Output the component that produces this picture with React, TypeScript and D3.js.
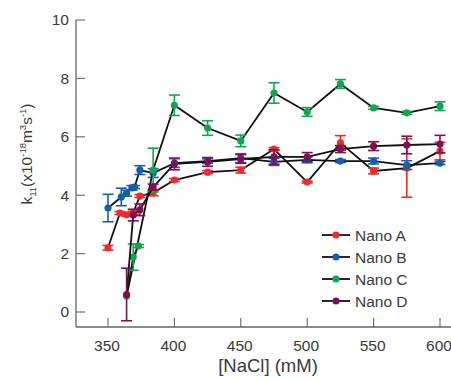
import React from "react";
import * as d3 from "d3";

const xTicks = [350, 400, 450, 500, 550, 600];
const yTicks = [0, 2, 4, 6, 8, 10];

const seriesNames = ["Nano A", "Nano B", "Nano C", "Nano D"];
const seriesColors = ["#ee2b2b", "#155fa9", "#12a551", "#7d1055"];

const nanoAX = [350, 359, 364, 369, 374, 384, 400, 425, 450, 475, 500, 525, 550, 575, 600];
const nanoAY = [2.2, 3.39, 3.33, 3.4, 3.97, 4.08, 4.52, 4.79, 4.86, 5.58, 4.45, 5.79, 4.83, 4.93, 5.51];
const nanoAE = [0.08, 0.05, 0.05, 0.05, 0.05, 0.1, 0.05, 0.05, 0.1, 0.05, 0.03, 0.25, 0.1, 1.0, 0.3];

const nanoBX = [350, 360, 364, 368, 370, 374, 384, 400, 425, 450, 475, 500, 525, 550, 575, 600];
const nanoBY = [3.56, 3.94, 4.07, 4.25, 4.28, 4.86, 4.76, 5.1, 5.17, 5.27, 5.14, 5.21, 5.17, 5.17, 5.03, 5.1];
const nanoBE = [0.47, 0.3, 0.1, 0.08, 0.05, 0.15, 0.15, 0.15, 0.08, 0.15, 0.12, 0.1, 0.05, 0.1, 0.15, 0.05];

const nanoCX = [373, 369, 364, 384, 400, 425, 450, 475, 500, 525, 550, 575, 600];
const nanoCY = [2.26, 1.88, 0.55, 4.86, 7.08, 6.3, 5.86, 7.5, 6.85, 7.81, 6.99, 6.82, 7.05];
const nanoCE = [0.05, 0.45, 0, 0.75, 0.35, 0.25, 0.2, 0.35, 0.15, 0.15, 0.05, 0.05, 0.15];

const nanoDX = [364, 369, 374, 384, 400, 425, 450, 475, 500, 525, 550, 575, 600];
const nanoDY = [0.6, 3.32, 3.5, 4.28, 5.07, 5.14, 5.24, 5.31, 5.31, 5.58, 5.68, 5.72, 5.75];
const nanoDE = [0.9, 0.2, 0.2, 0.1, 0.2, 0.15, 0.15, 0.25, 0.15, 0.12, 0.15, 0.3, 0.3];

const allX = [nanoAX, nanoBX, nanoCX, nanoDX];
const allY = [nanoAY, nanoBY, nanoCY, nanoDY];
const allE = [nanoAE, nanoBE, nanoCE, nanoDE];

const W = 451;
const H = 381;
const FONT = "'Liberation Sans', Arial, sans-serif";
const AXIS = "#666";
const TEXT = "#3a3a3a";

export default function App() {
  const x = d3.scaleLinear().domain([350, 600]).range([108, 440]);
  const y = d3.scaleLinear().domain([0, 10]).range([312, 20]);
  const axisLeft = 76;
  const axisBottom = 327;
  const line = d3
    .line<[number, number]>()
    .x((d) => x(d[0]))
    .y((d) => y(d[1]));
  const cap = 5.5;

  return (
    <svg
      width={W}
      height={H}
      style={{ position: "absolute", left: 0, top: 0, background: "#fff" }}
      fontFamily={FONT}
    >
      {/* axes */}
      <line x1={axisLeft} x2={axisLeft} y1={y(10)} y2={axisBottom} stroke={AXIS} strokeWidth={1.3} />
      <line x1={axisLeft} x2={W} y1={axisBottom} y2={axisBottom} stroke={AXIS} strokeWidth={1.3} />
      {yTicks.map((t) => (
        <g key={"y" + t}>
          <line x1={axisLeft} x2={axisLeft + 9} y1={y(t)} y2={y(t)} stroke={AXIS} strokeWidth={1.1} />
          <text x={69} y={y(t)} dy="0.35em" textAnchor="end" fontSize={15.5} fill={TEXT}>
            {t}
          </text>
        </g>
      ))}
      {xTicks.map((t) => (
        <g key={"x" + t}>
          <line x1={x(t)} x2={x(t)} y1={axisBottom} y2={axisBottom - 9} stroke={AXIS} strokeWidth={1.1} />
          <text x={x(t) - 1} y={351} textAnchor="middle" fontSize={15.5} fill={TEXT}>
            {t}
          </text>
        </g>
      ))}
      <text x={268} y={372} textAnchor="middle" fontSize={18.5} fill={TEXT}>
        [NaCl] (mM)
      </text>
      <text transform={`translate(32,154) rotate(-90)`} textAnchor="middle" fontSize={15.5} fill={TEXT}>
        k<tspan fontSize={9.5} dy={4}>11</tspan>
        <tspan dy={-4}>(x10</tspan>
        <tspan fontSize={9.5} dy={-6}>-18</tspan>
        <tspan dy={6}>m</tspan>
        <tspan fontSize={9.5} dy={-6}>3</tspan>
        <tspan dy={6}>s</tspan>
        <tspan fontSize={9.5} dy={-6}>-1</tspan>
        <tspan dy={6}>)</tspan>
      </text>

      {/* series */}
      {allX.map((xs, si) => {
        const pts: [number, number][] = xs.map((v, i) => [v, allY[si][i]]);
        const col = seriesColors[si];
        return (
          <g key={"s" + si}>
            <path d={line(pts) || ""} fill="none" stroke="#111" strokeWidth={1.8} />
            {pts.map((p, i) => {
              const e = allE[si][i];
              if (e <= 0) return null;
              const cx = x(p[0]);
              const y1 = y(p[1] + e);
              const y2 = y(p[1] - e);
              return (
                <g key={"e" + i} stroke={col} strokeWidth={1.6}>
                  <line x1={cx} x2={cx} y1={y1} y2={y2} />
                  <line x1={cx - cap} x2={cx + cap} y1={y1} y2={y1} />
                  <line x1={cx - cap} x2={cx + cap} y1={y2} y2={y2} />
                </g>
              );
            })}
            {pts.map((p, i) => (
              <circle key={"c" + i} cx={x(p[0])} cy={y(p[1])} r={3.6} fill={col} />
            ))}
          </g>
        );
      })}

      {/* legend */}
      {seriesNames.map((n, i) => {
        const ly = 235 + i * 22;
        return (
          <g key={"l" + i}>
            <line x1={322} x2={350} y1={ly} y2={ly} stroke="#111" strokeWidth={1.8} />
            <circle cx={336} cy={ly} r={3.6} fill={seriesColors[i]} />
            <text x={355} y={ly} dy="0.36em" fontSize={15.5} fill={TEXT}>
              {n}
            </text>
          </g>
        );
      })}
    </svg>
  );
}
